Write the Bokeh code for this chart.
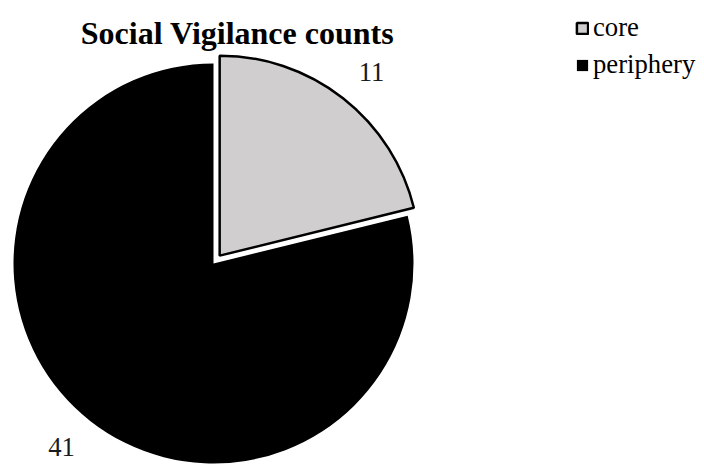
import math
from bokeh.plotting import figure
from bokeh.models import Range1d, Legend, LegendItem, Label
from bokeh.embed import file_html
from bokeh.resources import INLINE

categories = ["core", "periphery"]
counts = [11, 41]
colors = ["#d0cecf", "#000000"]
title_text = "Social Vigilance counts"

SERIF = "'Liberation Serif', 'Times New Roman', serif"
W, H = 704, 465
cx, cy, R = 213, 202, 200
explode = [10, 0]
label_r = 1.19
label_shift = math.radians(-1.6)

p = figure(width=W, height=H, output_backend="svg", toolbar_location=None,
           x_range=Range1d(0, W), y_range=Range1d(0, H), min_border=0)
p.axis.visible = False
p.grid.visible = False
p.outline_line_color = None

total = sum(counts)
start = math.pi / 2
renderers = []
wedges = []
for cat, v, col, ex in zip(categories, counts, colors, explode):
    sweep = 2 * math.pi * v / total
    end = start - sweep
    mid = start - sweep / 2
    x0 = cx + ex * math.cos(mid)
    y0 = cy + ex * math.sin(mid)
    wedges.append((cat, v, col, x0, y0, start, end, mid))
    start = end

for cat, v, col, x0, y0, s, e, mid in reversed(wedges):
    if cat == "core":
        r = p.wedge(x=[x0], y=[y0], radius=R, start_angle=[s], end_angle=[e],
                    direction="clock", fill_color=col, line_color="black", line_width=2.5)
    else:
        r = p.wedge(x=[x0], y=[y0], radius=R, start_angle=[s], end_angle=[e],
                    direction="clock", fill_color=col, line_color=None)
    renderers.append((cat, r))
    a = mid + label_shift
    p.add_layout(Label(x=x0 + label_r * R * math.cos(a), y=y0 + label_r * R * math.sin(a),
                       text=str(v), text_font=SERIF, text_font_size="26.7px",
                       text_color="#1a1a1a", text_align="center", text_baseline="middle"))

rmap = dict(renderers)
legend = Legend(items=[LegendItem(label=c, renderers=[rmap[c]]) for c in categories],
                location=(575, 385), orientation="vertical",
                glyph_width=14, glyph_height=14, label_height=30, spacing=6,
                padding=0, margin=0, label_standoff=4,
                label_text_font=SERIF, label_text_font_size="26.7px",
                label_text_color="#000000", border_line_color=None,
                background_fill_alpha=0)
p.add_layout(legend, "center")

p.add_layout(Label(x=237, y=H - 32, text=title_text, text_font=SERIF,
                   text_font_size="32px", text_font_style="bold", text_color="#000000",
                   text_align="center", text_baseline="alphabetic"))

open("out.html", "w").write(file_html(p, INLINE))
